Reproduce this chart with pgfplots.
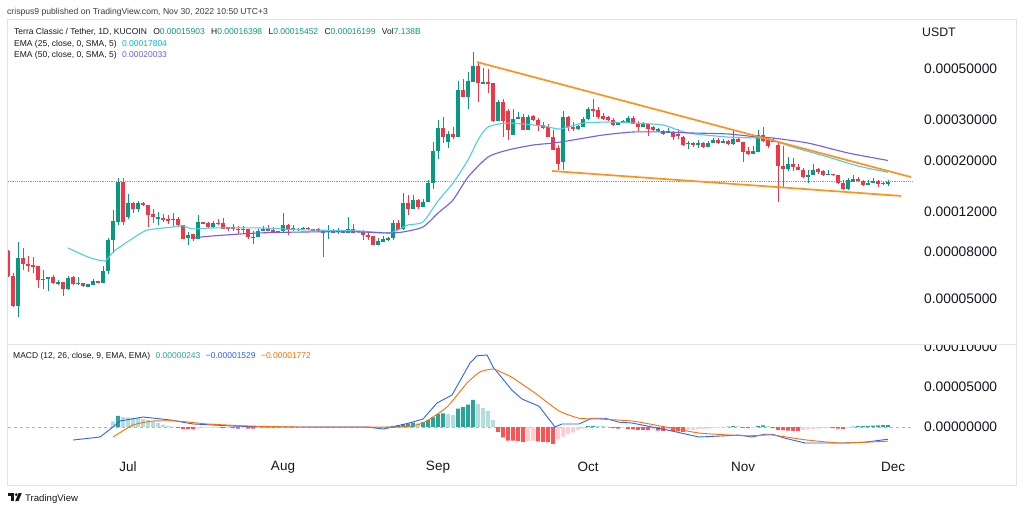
\documentclass[border=0pt]{standalone}
\usepackage{fontspec}
\setmainfont{Liberation Sans}
\usepackage{pgfplots}
\pgfplotsset{compat=1.18}
\definecolor{tvg}{RGB}{8,153,129}
\definecolor{tvr}{RGB}{242,54,69}
\definecolor{emaA}{RGB}{80,205,228}
\definecolor{emaAt}{RGB}{0,188,212}
\definecolor{emaB}{RGB}{110,95,240}
\definecolor{trend}{RGB}{255,145,30}
\definecolor{hdg}{RGB}{38,166,154}
\definecolor{hlg}{RGB}{178,223,219}
\definecolor{hrd}{RGB}{255,82,82}
\definecolor{hpk}{RGB}{255,205,210}
\definecolor{macdc}{RGB}{41,98,255}
\definecolor{sigc}{RGB}{255,109,0}
\definecolor{frame}{RGB}{224,227,235}
\definecolor{txt}{RGB}{19,23,34}
\definecolor{hdr}{RGB}{60,60,60}
\begin{document}
\begin{tikzpicture}[x=1pt,y=1pt]
\useasboundingbox (0,0) rectangle (1024,511);
\fill[white] (0,0) rectangle (1024,511);
% ---------------- main price pane ----------------
\begin{axis}[at={(8pt,167pt)}, anchor=south west, scale only axis,
  width=905pt, height=324pt, xmin=-24, xmax=157,
  ymode=log, ymin=3.196, ymax=81.63,
  axis line style={draw=none}, major tick length=0pt, minor tick length=0pt,
  xtick=\empty, ytick={5,8,12,20,30,50},
  yticklabels={0.00005000,0.00008000,0.00012000,0.00020000,0.00030000,0.00050000},
  yticklabel pos=right,
  yticklabel style={anchor=west, inner sep=0pt, xshift=11pt, text=txt, font=\fontsize{13.8}{14}\selectfont},
  unbounded coords=jump]
% current price dotted line
\addplot[tvg!70, densely dotted, line width=0.8pt] coordinates {(-24,16.199)(157,16.199)};
% green wicks
\addplot[tvg, line width=1pt] coordinates {
(-22,4.19)(-22,8.86)(-22,nan)(-17,5.54)(-17,6.70)(-17,nan)(-16,5.43)(-16,6.25)(-16,nan)(-14,5.77)(-14,6.06)(-14,nan)
(-12,5.49)(-12,6.31)(-12,nan)(-10,5.77)(-10,6.25)(-10,nan)(-8,5.65)(-8,5.83)(-8,nan)(-7,5.77)(-7,6.12)(-7,nan)
(-5,5.88)(-5,6.98)(-5,nan)(-4,6.44)(-4,9.23)(-4,nan)(-3,7.94)(-3,12.21)(-3,nan)(-2,10.51)(-2,16.81)(-2,nan)
(0,11.16)(0,14.33)(0,nan)(2,11.97)(2,13.36)(2,nan)(6,10.51)(6,11.97)(6,nan)(9,10.41)(9,11.84)(9,nan)
(12,8.60)(12,9.80)(12,nan)(14,9.14)(14,11.61)(14,nan)(17,10.20)(17,10.94)(17,nan)(25,8.69)(25,9.90)(25,nan)
(26,9.32)(26,10.10)(26,nan)(27,9.90)(27,10.41)(27,nan)(31,9.80)(31,11.84)(31,nan)(33,9.90)(33,10.51)(33,nan)
(34,9.90)(34,10.20)(34,nan)(35,10.00)(35,10.30)(35,nan)(40,9.14)(40,10.51)(40,nan)(42,9.61)(42,10.20)(42,nan)
(44,9.70)(44,11.38)(44,nan)(50,8.60)(50,9.23)(50,nan)(51,8.86)(51,9.42)(51,nan)(52,8.95)(52,9.32)(52,nan)
(53,9.05)(53,11.05)(53,nan)(55,10.00)(55,14.46)(55,nan)(57,12.33)(57,14.18)(57,nan)(59,12.57)(59,13.63)(59,nan)
(60,13.22)(60,16.48)(60,nan)(61,15.06)(61,24.09)(61,nan)(62,20.33)(62,30.02)(62,nan)(64,22.69)(64,26.90)(64,nan)
(66,25.32)(66,44.34)(66,nan)(68,33.52)(68,48.51)(68,nan)(69,43.89)(69,59.25)(69,nan)(71,43.04)(71,50.50)(71,nan)
(74,29.72)(74,36.67)(74,nan)(77,25.84)(77,33.52)(77,nan)(78,30.33)(78,32.52)(78,nan)(80,27.17)(80,31.55)(80,nan)
(87,18.21)(87,32.85)(87,nan)(90,27.17)(90,28.55)(90,nan)(91,27.98)(91,30.92)(91,nan)(92,30.02)(92,34.18)(92,nan)
(98,28.55)(98,29.42)(98,nan)(99,29.12)(99,30.02)(99,nan)(100,29.12)(100,31.26)(100,nan)(103,27.98)(103,29.42)(103,nan)
(106,26.63)(106,27.71)(106,nan)(108,26.36)(108,27.71)(108,nan)(112,22.47)(112,24.34)(112,nan)(114,22.69)(114,24.58)(114,nan)
(116,22.91)(116,24.34)(116,nan)(117,23.84)(117,25.07)(117,nan)(119,23.84)(119,24.83)(119,nan)(121,23.38)(121,27.44)(121,nan)
(125,21.37)(125,23.15)(125,nan)(126,21.80)(126,27.17)(126,nan)(129,24.09)(129,25.07)(129,nan)(132,18.03)(132,20.73)(132,nan)
(136,15.99)(136,18.21)(136,nan)(137,17.32)(137,19.34)(137,nan)(140,17.32)(140,18.21)(140,nan)(144,14.91)(144,16.81)(144,nan)
(145,16.15)(145,17.32)(145,nan)(148,15.67)(148,16.48)(148,nan)(149,15.99)(149,16.81)(149,nan)(152,15.452)(152,16.398)(152,nan)};
% green bodies
\addplot[tvg, line width=3.6pt] coordinates {
(-22,4.68)(-22,7.55)(-22,nan)(-17,6.05)(-17,6.12)(-17,nan)(-16,6.12)(-16,6.25)(-16,nan)(-14,5.83)(-14,5.94)(-14,nan)
(-12,5.54)(-12,6.19)(-12,nan)(-10,5.83)(-10,5.88)(-10,nan)(-8,5.65)(-8,5.83)(-8,nan)(-7,5.77)(-7,6.00)(-7,nan)
(-5,5.88)(-5,6.63)(-5,nan)(-4,6.63)(-4,9.05)(-4,nan)(-3,9.05)(-3,10.94)(-3,nan)(-2,10.83)(-2,16.15)(-2,nan)
(0,11.38)(0,13.09)(0,nan)(2,12.33)(2,13.09)(2,nan)(6,11.16)(6,11.38)(6,nan)(9,11.05)(9,11.16)(9,nan)
(12,9.23)(12,9.51)(12,nan)(14,9.14)(14,10.83)(14,nan)(17,10.30)(17,10.72)(17,nan)(25,9.23)(25,9.32)(25,nan)
(26,9.32)(26,9.90)(26,nan)(27,9.90)(27,10.10)(27,nan)(31,9.90)(31,10.51)(31,nan)(33,10.05)(33,10.15)(33,nan)
(34,10.00)(34,10.10)(34,nan)(35,10.10)(35,10.20)(35,nan)(40,9.80)(40,9.90)(40,nan)(42,9.80)(42,9.90)(42,nan)
(44,9.70)(44,10.10)(44,nan)(50,8.60)(50,8.95)(50,nan)(51,8.86)(51,9.14)(51,nan)(52,9.05)(52,9.23)(52,nan)
(53,9.23)(53,10.72)(53,nan)(55,10.10)(55,13.09)(55,nan)(57,12.33)(57,13.49)(57,nan)(59,12.57)(59,13.22)(59,nan)
(60,13.22)(60,15.99)(60,nan)(61,15.99)(61,22.02)(61,nan)(62,22.02)(62,27.71)(62,nan)(64,24.09)(64,26.11)(64,nan)
(66,25.32)(66,40.53)(66,nan)(68,37.77)(68,44.34)(68,nan)(69,43.89)(69,51.52)(69,nan)(71,43.04)(71,43.89)(71,nan)
(74,29.72)(74,35.94)(74,nan)(77,25.84)(77,30.33)(77,nan)(78,30.33)(78,30.92)(78,nan)(80,27.17)(80,30.92)(80,nan)
(87,19.73)(87,30.92)(87,nan)(90,27.44)(90,28.28)(90,nan)(91,27.98)(91,30.33)(91,nan)(92,30.33)(92,33.52)(92,nan)
(98,28.55)(98,29.12)(98,nan)(99,29.12)(99,29.72)(99,nan)(100,29.12)(100,30.63)(100,nan)(103,27.98)(103,28.85)(103,nan)
(106,26.90)(106,27.44)(106,nan)(108,26.36)(108,26.90)(108,nan)(112,23.62)(112,23.84)(112,nan)(114,23.38)(114,23.84)(114,nan)
(116,22.91)(116,23.84)(116,nan)(117,23.84)(117,24.58)(117,nan)(119,23.84)(119,24.34)(119,nan)(121,23.62)(121,24.83)(121,nan)
(125,21.37)(125,22.02)(125,nan)(126,21.80)(126,25.84)(126,nan)(129,24.09)(129,24.58)(129,nan)(132,18.40)(132,19.34)(132,nan)
(136,16.97)(136,17.32)(136,nan)(137,17.32)(137,18.21)(137,nan)(140,17.32)(140,17.50)(140,nan)(144,15.06)(144,16.48)(144,nan)
(145,16.15)(145,16.64)(145,nan)(148,15.67)(148,15.99)(148,nan)(149,15.99)(149,16.32)(149,nan)(152,15.903)(152,16.199)(152,nan)};
% red wicks
\addplot[tvr, line width=1pt] coordinates {
(-24,6.25)(-24,8.18)(-24,nan)(-23,4.63)(-23,6.50)(-23,nan)(-21,6.70)(-21,8.35)(-21,nan)(-20,6.57)(-20,7.71)(-20,nan)
(-19,6.50)(-19,7.63)(-19,nan)(-18,5.60)(-18,6.98)(-18,nan)(-15,5.83)(-15,6.37)(-15,nan)(-13,5.17)(-13,5.94)(-13,nan)
(-11,5.77)(-11,6.31)(-11,nan)(-9,5.65)(-9,5.88)(-9,nan)(-6,5.88)(-6,6.00)(-6,nan)(-1,10.51)(-1,16.81)(-1,nan)
(1,11.84)(1,13.22)(1,nan)(3,12.70)(3,13.22)(3,nan)(4,10.30)(4,12.83)(4,nan)(5,10.72)(5,12.33)(5,nan)
(7,10.83)(7,11.73)(7,nan)(8,10.62)(8,11.61)(8,nan)(10,10.41)(10,11.38)(10,nan)(11,9.14)(11,10.51)(11,nan)
(13,8.95)(13,9.61)(13,nan)(15,10.62)(15,10.83)(15,nan)(16,10.20)(16,10.83)(16,nan)(18,10.51)(18,11.16)(18,nan)
(19,10.10)(19,11.27)(19,nan)(20,9.90)(20,10.30)(20,nan)(21,9.90)(21,10.62)(21,nan)(22,9.61)(22,10.41)(22,nan)
(23,9.61)(23,10.41)(23,nan)(24,9.14)(24,10.10)(24,nan)(28,9.90)(28,10.51)(28,nan)(29,9.70)(29,10.30)(29,nan)
(30,9.80)(30,9.90)(30,nan)(32,9.51)(32,10.62)(32,nan)(36,10.00)(36,10.30)(36,nan)(37,9.90)(37,10.10)(37,nan)
(38,9.80)(38,10.20)(38,nan)(39,7.63)(39,10.00)(39,nan)(41,9.70)(41,10.10)(41,nan)(43,9.70)(43,9.90)(43,nan)
(45,9.70)(45,10.62)(45,nan)(46,9.70)(46,9.90)(46,nan)(47,9.05)(47,10.00)(47,nan)(48,9.05)(48,9.90)(48,nan)
(49,8.60)(49,9.42)(49,nan)(54,10.00)(54,11.05)(54,nan)(56,11.61)(56,14.18)(56,nan)(58,12.33)(58,13.63)(58,nan)
(63,23.84)(63,30.92)(63,nan)(65,24.83)(65,27.98)(65,nan)(67,37.77)(67,45.24)(67,nan)(70,35.94)(70,53.62)(70,nan)
(72,39.31)(72,50.00)(72,nan)(73,29.42)(73,43.45)(73,nan)(75,25.32)(75,37.04)(75,nan)(76,24.58)(76,33.52)(76,nan)
(79,27.17)(79,31.89)(79,nan)(81,29.72)(81,31.55)(81,nan)(82,26.90)(82,30.63)(82,nan)(83,27.44)(83,29.42)(83,nan)
(84,25.32)(84,28.85)(84,nan)(85,22.24)(85,27.17)(85,nan)(86,18.21)(86,23.38)(86,nan)(88,26.90)(88,31.26)(88,nan)
(89,26.90)(89,29.42)(89,nan)(93,30.92)(93,37.04)(93,nan)(94,30.33)(94,34.18)(94,nan)(95,30.02)(95,32.18)(95,nan)
(96,29.72)(96,31.26)(96,nan)(97,28.28)(97,30.63)(97,nan)(101,28.85)(101,31.26)(101,nan)(102,26.90)(102,29.72)(102,nan)
(104,25.59)(104,28.85)(104,nan)(105,26.90)(105,28.28)(105,nan)(107,25.84)(107,27.17)(107,nan)(109,24.58)(109,26.90)(109,nan)
(110,24.83)(110,27.44)(110,nan)(111,23.15)(111,25.59)(111,nan)(113,22.91)(113,24.09)(113,nan)(115,22.69)(115,24.09)(115,nan)
(118,23.62)(118,25.07)(118,nan)(120,23.38)(120,24.58)(120,nan)(122,24.09)(122,25.32)(122,nan)(123,19.73)(123,24.09)(123,nan)
(124,21.15)(124,22.91)(124,nan)(127,24.09)(127,27.98)(127,nan)(128,22.69)(128,25.07)(128,nan)(130,13.22)(130,23.84)(130,nan)
(131,15.36)(131,23.15)(131,nan)(133,18.03)(133,20.53)(133,nan)(134,18.21)(134,19.34)(134,nan)(135,16.81)(135,18.58)(135,nan)
(138,17.50)(138,18.58)(138,nan)(139,17.15)(139,18.21)(139,nan)(141,17.15)(141,17.50)(141,nan)(142,15.84)(142,17.32)(142,nan)
(143,14.91)(143,16.48)(143,nan)(146,16.32)(146,16.97)(146,nan)(147,15.52)(147,16.48)(147,nan)(150,15.36)(150,16.48)(150,nan)
(151,15.67)(151,16.15)(151,nan)};
% red bodies
\addplot[tvr, line width=3.6pt] coordinates {
(-24,8.10)(-24,6.31)(-24,nan)(-23,6.31)(-23,4.68)(-23,nan)(-21,7.55)(-21,7.12)(-21,nan)(-20,7.12)(-20,6.98)(-20,nan)
(-19,7.04)(-19,6.90)(-19,nan)(-18,6.98)(-18,6.06)(-18,nan)(-15,6.25)(-15,5.88)(-15,nan)(-13,5.94)(-13,5.54)(-13,nan)
(-11,6.25)(-11,5.83)(-11,nan)(-9,5.88)(-9,5.68)(-9,nan)(-6,6.00)(-6,5.88)(-6,nan)(-1,16.15)(-1,10.83)(-1,nan)
(1,13.09)(1,12.33)(1,nan)(3,13.09)(3,12.83)(3,nan)(4,12.83)(4,11.61)(4,nan)(5,11.73)(5,11.38)(5,nan)
(7,11.27)(7,11.05)(7,nan)(8,11.16)(8,10.94)(8,nan)(10,11.16)(10,10.51)(10,nan)(11,10.51)(11,9.14)(11,nan)
(13,9.61)(13,9.14)(13,nan)(15,10.83)(15,10.62)(15,nan)(16,10.72)(16,10.30)(16,nan)(18,10.72)(18,10.62)(18,nan)
(19,10.72)(19,10.10)(19,nan)(20,10.30)(20,10.10)(20,nan)(21,10.30)(21,10.10)(21,nan)(22,10.10)(22,10.00)(22,nan)
(23,10.05)(23,9.95)(23,nan)(24,10.10)(24,9.32)(24,nan)(28,10.10)(28,9.90)(28,nan)(29,10.00)(29,9.80)(29,nan)
(30,9.90)(30,9.80)(30,nan)(32,10.51)(32,10.00)(32,nan)(36,10.20)(36,10.10)(36,nan)(37,10.10)(37,9.90)(37,nan)
(38,10.10)(38,9.90)(38,nan)(39,10.00)(39,9.70)(39,nan)(41,9.90)(41,9.70)(41,nan)(43,9.90)(43,9.70)(43,nan)
(45,10.10)(45,9.70)(45,nan)(46,9.90)(46,9.80)(46,nan)(47,9.80)(47,9.51)(47,nan)(48,9.51)(48,9.32)(48,nan)
(49,9.42)(49,8.60)(49,nan)(54,10.72)(54,10.00)(54,nan)(56,13.09)(56,12.33)(56,nan)(58,13.49)(58,12.57)(58,nan)
(63,27.71)(63,25.32)(63,nan)(65,26.11)(65,25.32)(65,nan)(67,40.53)(67,37.77)(67,nan)(70,51.52)(70,43.45)(70,nan)
(72,43.89)(72,43.04)(72,nan)(73,43.45)(73,29.72)(73,nan)(75,35.94)(75,29.72)(75,nan)(76,32.85)(76,27.17)(76,nan)
(79,30.92)(79,27.17)(79,nan)(81,31.26)(81,30.02)(81,nan)(82,30.02)(82,28.55)(82,nan)(83,28.55)(83,27.71)(83,nan)
(84,27.98)(84,25.32)(84,nan)(85,25.32)(85,22.24)(85,nan)(86,22.69)(86,19.34)(86,nan)(88,30.92)(88,27.98)(88,nan)
(89,27.98)(89,27.44)(89,nan)(93,33.52)(93,32.85)(93,nan)(94,33.18)(94,30.92)(94,nan)(95,31.26)(95,30.33)(95,nan)
(96,30.92)(96,30.02)(96,nan)(97,30.02)(97,28.55)(97,nan)(101,30.63)(101,28.85)(101,nan)(102,28.85)(102,27.98)(102,nan)
(104,28.85)(104,27.44)(104,nan)(105,27.98)(105,27.17)(105,nan)(107,26.90)(107,26.11)(107,nan)(109,26.36)(109,25.32)(109,nan)
(110,26.11)(110,25.59)(110,nan)(111,25.32)(111,23.38)(111,nan)(113,23.84)(113,23.38)(113,nan)(115,23.84)(115,22.91)(115,nan)
(118,24.58)(118,23.84)(118,nan)(120,24.34)(120,23.62)(120,nan)(122,24.83)(122,24.09)(122,nan)(123,24.09)(123,21.80)(123,nan)
(124,22.02)(124,21.37)(124,nan)(127,25.84)(127,24.34)(127,nan)(128,24.83)(128,23.15)(128,nan)(130,23.38)(130,18.96)(130,nan)
(131,18.96)(131,18.40)(131,nan)(133,19.34)(133,18.76)(133,nan)(134,18.76)(134,18.21)(134,nan)(135,18.21)(135,16.97)(135,nan)
(138,18.40)(138,17.85)(138,nan)(139,18.03)(139,17.32)(139,nan)(141,17.50)(141,17.32)(141,nan)(142,17.32)(142,15.99)(142,nan)
(143,15.99)(143,15.06)(143,nan)(146,16.64)(146,16.32)(146,nan)(147,16.32)(147,15.67)(147,nan)(150,16.32)(150,15.84)(150,nan)
(151,15.99)(151,15.84)(151,nan)};
% EMA 25
\addplot[emaA, line width=1.1pt, smooth, tension=0.4] coordinates {
(-12,8.35)(-8,7.63)(-4.6,7.33)(-3.2,7.94)(-1.6,8.44)(2,9.51)(4,10.00)(9,10.30)(11,10.41)(13,10.10)(17,10.20)
(26,10.20)(36,10.00)(46,9.90)(52,9.70)(54,10.00)(56,10.51)(59,10.83)(62,13.36)(65,15.99)(68,20.13)(70,24.58)
(72,27.98)(76,29.12)(83,28.28)(86,27.44)(88,27.98)(91,29.12)(96,29.42)(101,29.12)(107,28.55)(112,26.36)
(120,25.32)(126,25.07)(128,24.83)(133,22.91)(140,20.73)(146,18.96)(152,17.80)};
% EMA 50
\addplot[emaB, line width=1.1pt, smooth, tension=0.4] coordinates {
(13,9.23)(17,9.42)(26,9.70)(36,9.80)(46,9.80)(52,9.70)(55,9.80)(59,10.30)(62,11.84)(65,13.49)(68,16.97)
(72,20.73)(76,22.24)(81,23.38)(85,23.84)(89,24.58)(95,25.84)(101,26.63)(107,26.63)(113,26.36)(120,26.11)
(126,25.32)(129,25.07)(136,23.84)(144,21.59)(152,20.03)};
% falling wedge trend lines
\addplot[trend, line width=1.7pt] coordinates {(69.8,53.6)(156.6,16.97)};
\addplot[trend, line width=1.7pt] coordinates {(84.8,18.03)(154.6,14.05)};
\end{axis}
% ---------------- MACD pane ----------------
\begin{axis}[at={(8pt,54pt)}, anchor=south west, scale only axis,
  width=905pt, height=112pt, xmin=-24, xmax=157, ymin=-3.75, ymax=10.25,
  axis line style={draw=none}, major tick length=0pt, minor tick length=0pt,
  xtick={0,31,62,92,123,153}, xticklabels={Jul,Aug,Sep,Oct,Nov,Dec},
  xticklabel style={anchor=center, yshift=-10pt, inner sep=0pt, text=txt, font=\fontsize{13.5}{14}\selectfont},
  ytick={0,5,10}, yticklabels={0.00000000,0.00005000,0.00010000},
  yticklabel pos=right,
  yticklabel style={anchor=west, inner sep=0pt, xshift=11pt, text=txt, font=\fontsize{13.8}{14}\selectfont}]
\addplot[gray!60, dash pattern=on 3pt off 3pt, line width=0.6pt] coordinates {(-24,0)(158,0)};
\addplot[ybar, bar width=3.6pt, bar shift=0pt, fill=hdg, draw=none] coordinates {
(-2,1.4)(52,0.05)(53,0.15)(54,0.25)(55,0.35)(56,0.45)(57,0.55)(59,0.6)(60,0.85)(61,1.2)(62,1.6)(63,1.7)
(66,2.3)(67,2.5)(68,2.8)(69,3.4)(92,0.1)(93,0.15)(120,0.05)(121,0.1)(126,0.1)(127,0.2)
(145,0.05)(146,0.1)(147,0.12)(148,0.15)(149,0.18)(150,0.2)(151,0.22)(152,0.243)};
\addplot[ybar, bar width=3.6pt, bar shift=0pt, fill=hlg, draw=none] coordinates {
(-3,0.7)(-1,1.25)(0,1.2)(1,1.15)(2,1.1)(3,1.0)(4,0.85)(5,0.7)(6,0.5)(7,0.3)(8,0.15)(9,0.05)
(58,0.45)(64,1.6)(65,1.5)(70,2.9)(71,2.4)(72,2.0)(73,0.85)(94,0.12)(95,0.1)(96,0.05)(122,0.08)(128,0.1)};
\addplot[ybar, bar width=3.6pt, bar shift=0pt, fill=hrd, draw=none] coordinates {
(10,-0.1)(11,-0.25)(12,-0.25)(13,-0.3)(19,-0.15)(21,-0.15)(22,-0.2)(24,-0.2)(25,-0.2)(48,-0.1)(49,-0.1)
(74,-0.6)(75,-1.3)(76,-1.7)(77,-1.7)(78,-1.75)(79,-1.9)(82,-1.8)(83,-1.85)(84,-1.9)(85,-2.1)
(97,-0.15)(98,-0.2)(100,-0.25)(101,-0.3)(102,-0.35)(103,-0.37)(104,-0.4)(106,-0.45)(107,-0.47)
(109,-0.5)(110,-0.55)(111,-0.6)(123,-0.1)(124,-0.15)(129,-0.15)(130,-0.35)(131,-0.4)(132,-0.45)
(133,-0.47)(134,-0.5)(141,-0.15)(142,-0.2)(143,-0.22)};
\addplot[ybar, bar width=3.6pt, bar shift=0pt, fill=hpk, draw=none] coordinates {
(14,-0.2)(15,-0.15)(16,-0.1)(17,-0.1)(18,-0.1)(20,-0.1)(23,-0.1)(26,-0.1)(27,-0.05)(50,-0.08)(51,-0.05)
(80,-1.75)(81,-1.7)(86,-1.5)(87,-1.2)(88,-0.9)(89,-0.7)(90,-0.4)(91,-0.2)(99,-0.1)(105,-0.3)(108,-0.3)
(112,-0.4)(113,-0.35)(114,-0.3)(115,-0.25)(116,-0.2)(117,-0.15)(118,-0.1)(119,-0.05)(125,-0.1)
(135,-0.35)(136,-0.3)(137,-0.25)(138,-0.2)(139,-0.15)(140,-0.1)(144,-0.1)};
% MACD line
\addplot[macdc, line width=0.9pt] coordinates {
(-11,-1.63)(-5.6,-1.25)(-3,0)(-1.6,0.75)(3,1.25)(8.4,0.88)(13,0.38)(21,0.12)(27.8,0)(41,0)(47.8,0)
(51,-0.25)(53,0)(57,0.63)(59,1.0)(61.8,3.0)(64.8,4.0)(68.4,8.0)(69.8,8.9)(71.8,9.0)(73,7.5)(76.8,4.6)
(78.8,3.5)(82.2,2.6)(85.4,0)(86.8,0.38)(90.2,0.38)(92.8,1.1)(95.4,1.1)(98.2,0.6)(100.8,0.5)(104.8,0)
(108.8,-0.5)(114.2,-1.25)(119.4,-1.1)(122.2,-1.0)(124.8,-1.25)(127.4,-0.9)(128.8,-0.9)(131.4,-1.4)
(135.4,-2.0)(140.8,-2.0)(143.4,-2.0)(147.4,-1.9)(152,-1.529)};
% signal line
\addplot[sigc, line width=0.9pt, smooth, tension=0.3] coordinates {
(-3,-1.25)(1,0.25)(5,0.75)(9.8,0.75)(15.8,0.38)(24.4,0.12)(34.4,0)(54.4,0)(59,0.5)(63.8,2.5)(67.8,5.5)
(70.4,6.9)(73,7.25)(75,6.75)(76.8,6.2)(81.4,4.25)(86.2,2.0)(90.2,1.1)(94.2,1.0)(100.8,0.75)(105.4,0.25)
(114.2,-0.75)(123.4,-1.1)(128.8,-1.0)(135.4,-1.6)(142.2,-2.0)(147.4,-1.9)(152,-1.772)};
\end{axis}
% clip top of the MACD scale label, frame
\fill[white] (913.5,166.5) rectangle (1015.5,185);
\draw[frame, line width=1pt] (7.5,491) rectangle (1016,26);
\draw[frame, line width=1pt] (7.5,166) -- (1016,166);
% header texts
\node[anchor=base west, inner sep=0pt, text=hdr, font=\fontsize{8.6}{10}\selectfont] at (7,496.5)
  {crispus9 published on TradingView.com, Nov 30, 2022 10:50 UTC+3};
\node[anchor=base west, inner sep=0pt, text=txt, font=\fontsize{8.5}{10}\selectfont] at (14,476)
  {Terra Classic / Tether, 1D, KUCOIN\hspace{4pt} O{\color{tvg}0.00015903}\hspace{4pt} H{\color{tvg}0.00016398}\hspace{4pt} L{\color{tvg}0.00015452}\hspace{4pt} C{\color{tvg}0.00016199}\hspace{4pt} Vol{\color{tvg}7.138B}};
\node[anchor=base west, inner sep=0pt, text=txt, font=\fontsize{8.5}{10}\selectfont] at (14,464)
  {EMA (25, close, 0, SMA, 5)\hspace{3pt} {\color{emaAt}0.00017804}};
\node[anchor=base west, inner sep=0pt, text=txt, font=\fontsize{8.5}{10}\selectfont] at (14,453)
  {EMA (50, close, 0, SMA, 5)\hspace{3pt} {\color{emaB}0.00020033}};
\node[anchor=base west, inner sep=0pt, text=txt, font=\fontsize{8.5}{10}\selectfont] at (13,152)
  {MACD (12, 26, close, 9, EMA, EMA)\hspace{3pt} {\color{hdg}0.00000243}\hspace{3pt} {\color{macdc}−0.00001529}\hspace{3pt} {\color{sigc}−0.00001772}};
\node[anchor=base west, inner sep=0pt, text=txt, font=\fontsize{12.3}{13}\selectfont] at (922,474) {USDT};
% footer logo
\fill[txt] (8,18) rectangle (14.2,15.2);
\fill[txt] (11.2,15.2) rectangle (14.2,9.8);
\fill[txt] (16.2,16.4) circle (1.5);
\fill[txt] (15.2,9.8) -- (18.6,18) -- (21.8,18) -- (18.4,9.8) -- cycle;
\node[anchor=base west, inner sep=0pt, text=txt, font=\fontsize{9.6}{10}\selectfont] at (25,10) {TradingView};
\end{tikzpicture}
\end{document}
